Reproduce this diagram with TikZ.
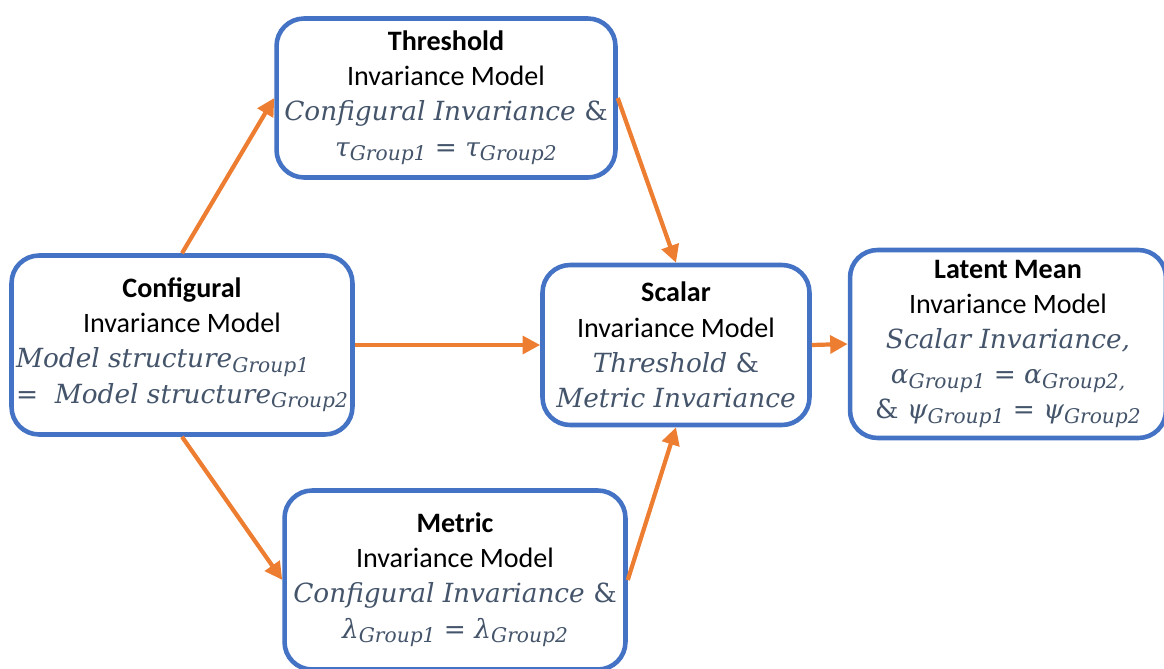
\documentclass[tikz,border=0pt]{standalone}
\usepackage{fontspec}
\setmainfont{Carlito}
\newfontfamily\eqfont{DejaVu Serif}
\usetikzlibrary{arrows.meta, positioning}
\definecolor{boxblue}{RGB}{68,114,196}
\definecolor{arroworange}{RGB}{237,125,49}
\definecolor{eqgray}{RGB}{68,84,106}
\newcommand{\grp}[1]{\raisebox{-0.35ex}{\fontsize{11.5}{12}\selectfont Group#1}}
\newcommand{\eq}[1]{{\color{eqgray}\eqfont\itshape\fontsize{15}{20}\selectfont #1}}

\begin{document}
\begin{tikzpicture}[x=0.02cm, y=-0.02cm,
    model/.style={draw=boxblue, line width=2.6pt, rounded corners=0.55cm, fill=white,
      align=center, inner sep=0pt, font=\fontsize{16}{20}\selectfont},
    link/.style={draw=arroworange, line width=2.4pt, -{Triangle[length=10pt, width=10pt]}}]

    \useasboundingbox (0,0) rectangle (1164,669);

    % Models
    \node[model, minimum width=6.78cm, minimum height=3.18cm] (thr) at (446,98)
      {\textbf{Threshold}\\Invariance Model\\\eq{Configural Invariance \textup{\&}}\\\eq{τ\grp{1} =\ τ\grp{2}}};
    \node[model, minimum width=6.82cm, minimum height=3.58cm] (conf) at (182,345)
      {\textbf{Configural}\\Invariance Model\\\eq{\makebox[0pt][l]{Model structure\grp{1}}\phantom{=\ \ Model structure\grp{2}}}\\\eq{=\ \ Model structure\grp{2}}};
    \node[model, minimum width=5.34cm, minimum height=3.2cm] (scal) at (676,345)
      {\textbf{Scalar}\\Invariance Model\\\eq{Threshold \textup{\&}}\\\eq{Metric Invariance}};
    \node[model, minimum width=6.32cm, minimum height=3.76cm] (lat) at (1008,344)
      {\textbf{Latent Mean}\\Invariance Model\\\eq{Scalar Invariance,}\\\eq{α\grp{1} =\ α\grp{2,}}\\\eq{\textup{\&} ψ\grp{1} =\ ψ\grp{2}}};
    \node[model, minimum width=6.82cm, minimum height=3.58cm] (met) at (455,580)
      {\textbf{Metric}\\Invariance Model\\\eq{Configural Invariance \textup{\&}}\\\eq{λ\grp{1} =\ λ\grp{2}}};

    % Arrows
    \draw[link] (conf.north) -- (thr.west);
    \draw[link] (thr.east) -- (scal.north);
    \draw[link] (conf.east) -- (scal.west);
    \draw[link] (conf.south) -- (met.west);
    \draw[link] (met.east) -- (scal.south);
    \draw[link] (scal.east) -- (lat.west);
\end{tikzpicture}
\end{document}
